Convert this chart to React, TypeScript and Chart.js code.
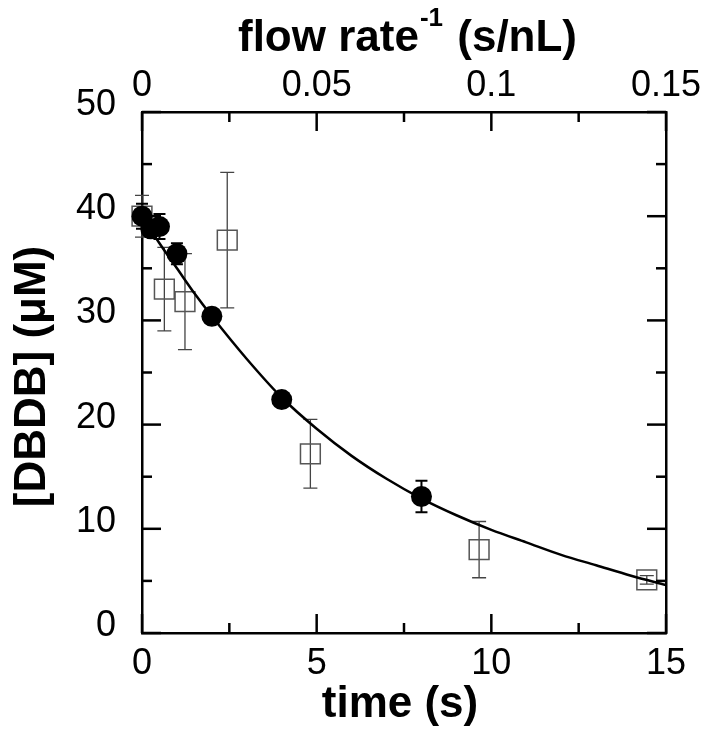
import React, { useEffect, useRef } from "react";
import { Chart, registerables } from "chart.js";

Chart.register(...registerables);

// ---- data ----
const circleTime = [0, 0.25, 0.5, 1, 2, 4, 8];
const circleConc = [40.0, 38.8, 39.0, 36.4, 30.4, 22.4, 13.1];
const circleErr = [1.2, 0.8, 1.2, 1.0, 0.7, 0.5, 1.5];

const squareTime = [0, 0.64, 1.23, 2.44, 4.82, 9.65, 14.45];
const squareConc = [40.0, 33.0, 31.8, 37.7, 17.2, 8.0, 5.1];
const squareErr = [2.0, 4.0, 4.6, 6.5, 3.3, 2.7, 0.4];

const fitTime = [0, 0.5, 1, 1.5, 2, 3, 4, 5, 6, 7, 8, 9, 10, 11, 12, 13, 14, 15];
const fitConc = [40.0, 37.4, 35.0, 32.6, 30.4, 26.3, 22.6, 19.6, 17.0, 14.8, 12.9, 11.3, 9.9, 8.7, 7.5, 6.5, 5.5, 4.6];

const timeTickValues = [0, 5, 10, 15];
const timeTickLabels = ["0", "5", "10", "15"];
const timeMinorTicks = [2.5, 7.5, 12.5];
const flowTickValues = [0, 0.05, 0.1, 0.15];
const flowTickLabels = ["0", "0.05", "0.1", "0.15"];
const flowMinorTicks = [0.025, 0.075, 0.125];
const concTickValues = [0, 10, 20, 30, 40, 50];
const concTickLabels = ["0", "10", "20", "30", "40", "50"];
const concMinorTicks = [5, 15, 25, 35, 45];

const xTitle = "time (s)";
const yTitle = "[DBDB] (\u03BCM)";
const topTitleMain = "flow rate";
const topTitleSup = "-1";
const topTitleTail = " (s/nL)";

const FONT = "'Liberation Sans', Arial, Helvetica, sans-serif";

const errorBarsPlugin = {
  id: "errorBars",
  beforeDatasetsDraw(chart: any) {
    const { ctx, scales } = chart;
    const xs = scales.x;
    const ys = scales.y;
    const draw = (t: number[], v: number[], e: number[], color: string, lw: number, cap: number) => {
      ctx.save();
      ctx.strokeStyle = color;
      ctx.lineWidth = lw;
      for (let i = 0; i < t.length; i++) {
        const x = xs.getPixelForValue(t[i]);
        const y1 = ys.getPixelForValue(v[i] + e[i]);
        const y2 = ys.getPixelForValue(v[i] - e[i]);
        ctx.beginPath();
        ctx.moveTo(x, y1);
        ctx.lineTo(x, y2);
        ctx.moveTo(x - cap, y1);
        ctx.lineTo(x + cap, y1);
        ctx.moveTo(x - cap, y2);
        ctx.lineTo(x + cap, y2);
        ctx.stroke();
      }
      ctx.restore();
    };
    draw(squareTime, squareConc, squareErr, "#444", 1.3, 7);
    draw(circleTime, circleConc, circleErr, "#000", 2, 6);
  },
};

const inwardTicksPlugin = {
  id: "inwardTicks",
  afterDatasetsDraw(chart: any) {
    const { ctx, chartArea: a, scales } = chart;
    const MAJOR = 19;
    const MINOR = 10;
    ctx.save();
    ctx.strokeStyle = "#000";
    ctx.lineWidth = 2.5;
    const seg = (x1: number, y1: number, x2: number, y2: number) => {
      ctx.beginPath();
      ctx.moveTo(x1, y1);
      ctx.lineTo(x2, y2);
      ctx.stroke();
    };
    timeTickValues.forEach((v) => {
      const x = scales.x.getPixelForValue(v);
      seg(x, a.bottom, x, a.bottom - MAJOR);
    });
    timeMinorTicks.forEach((v) => {
      const x = scales.x.getPixelForValue(v);
      seg(x, a.bottom, x, a.bottom - MINOR);
    });
    flowTickValues.forEach((v) => {
      const x = scales.x2.getPixelForValue(v);
      seg(x, a.top, x, a.top + MAJOR);
    });
    flowMinorTicks.forEach((v) => {
      const x = scales.x2.getPixelForValue(v);
      seg(x, a.top, x, a.top + MINOR);
    });
    concTickValues.forEach((v) => {
      const y = scales.y.getPixelForValue(v);
      seg(a.left, y, a.left + MAJOR, y);
      seg(a.right, y, a.right - MAJOR, y);
    });
    concMinorTicks.forEach((v) => {
      const y = scales.y.getPixelForValue(v);
      seg(a.left, y, a.left + MINOR, y);
      seg(a.right, y, a.right - MINOR, y);
    });
    ctx.restore();
  },
};

const titlesPlugin = {
  id: "titles",
  afterDraw(chart: any) {
    const { ctx, chartArea: a } = chart;
    ctx.save();
    ctx.fillStyle = "#000";
    const big = `bold 44px ${FONT}`;
    const small = `bold 26px ${FONT}`;
    // bottom
    ctx.font = big;
    ctx.textAlign = "center";
    ctx.textBaseline = "alphabetic";
    ctx.fillText(xTitle, (a.left + a.right) / 2 - 4, 717);
    // left (rotated)
    ctx.save();
    ctx.translate(45, (a.top + a.bottom) / 2 + 4);
    ctx.rotate(-Math.PI / 2);
    ctx.textAlign = "center";
    ctx.fillText(yTitle, 0, 0);
    ctx.restore();
    // top with superscript
    ctx.font = big;
    const w1 = ctx.measureText(topTitleMain).width;
    const w3 = ctx.measureText(topTitleTail).width;
    ctx.font = small;
    const w2 = ctx.measureText(topTitleSup).width + 2;
    const total = w1 + w2 + w3;
    const cx = (a.left + a.right) / 2 + 3;
    let x = cx - total / 2;
    const base = 51;
    ctx.textAlign = "left";
    ctx.font = big;
    ctx.fillText(topTitleMain, x, base);
    x += w1 + 1;
    ctx.font = small;
    ctx.fillText(topTitleSup, x, base - 25);
    x += w2;
    ctx.font = big;
    ctx.fillText(topTitleTail, x, base);
    ctx.restore();
  },
};

const noHPad = (s: any) => {
  s.paddingLeft = 0;
  s.paddingRight = 0;
};
const noVPad = (s: any) => {
  s.paddingTop = 0;
  s.paddingBottom = 0;
};

export default function App() {
  const ref = useRef<HTMLCanvasElement | null>(null);
  useEffect(() => {
    document.body.style.margin = "0";
    const canvas = ref.current;
    if (!canvas) return;
    const tickFont = { family: FONT, size: 36 };
    const chart = new Chart(canvas, {
      type: "scatter",
      data: {
        datasets: [
          {
            label: "circles",
            data: circleTime.map((t, i) => ({ x: t, y: circleConc[i] })),
            pointStyle: "circle",
            pointRadius: 10.5,
            backgroundColor: "#000",
            borderColor: "#000",
            borderWidth: 0,
            xAxisID: "x",
            yAxisID: "y",
            order: 0,
            clip: false as any,
          },
          {
            label: "fit",
            data: fitTime.map((t, i) => ({ x: t, y: fitConc[i] })),
            showLine: true,
            pointRadius: 0,
            borderColor: "#000",
            borderWidth: 2.5,
            cubicInterpolationMode: "monotone",
            xAxisID: "x",
            yAxisID: "y",
            order: 1,
          } as any,
          {
            label: "squares",
            data: squareTime.map((t, i) => ({ x: t, y: squareConc[i] })),
            pointStyle: "rect",
            pointRadius: 14,
            backgroundColor: "rgba(255,255,255,0)",
            borderColor: "#555",
            borderWidth: 1.5,
            xAxisID: "x",
            yAxisID: "y",
            order: 2,
            clip: false as any,
          },
        ],
      },
      options: {
        animation: false,
        responsive: false,
        events: [],
        layout: { padding: { left: 0, right: 36, top: 0, bottom: 0 } },
        plugins: { legend: { display: false }, tooltip: { enabled: false } },
        scales: {
          x: {
            type: "linear",
            position: "bottom",
            min: 0,
            max: 15,
            afterBuildTicks: (s: any) => {
              s.ticks = timeTickValues.map((v) => ({ value: v }));
            },
            ticks: {
              font: tickFont,
              color: "#000",
              padding: 9,
              maxRotation: 0,
              autoSkip: false,
              callback: (v: any) => timeTickLabels[timeTickValues.indexOf(Number(v))] ?? "",
            },
            grid: { display: false, drawTicks: false },
            border: { display: true, width: 2.5, color: "#000" },
            afterFit: (s: any) => {
              s.height = 105;
              noHPad(s);
            },
          },
          x2: {
            type: "linear",
            position: "top",
            min: 0,
            max: 0.15,
            afterBuildTicks: (s: any) => {
              s.ticks = flowTickValues.map((v) => ({ value: v }));
            },
            ticks: {
              font: tickFont,
              color: "#000",
              padding: 4,
              maxRotation: 0,
              autoSkip: false,
              callback: (v: any) => {
                const i = flowTickValues.findIndex((f) => Math.abs(f - Number(v)) < 1e-9);
                return i >= 0 ? flowTickLabels[i] : "";
              },
            },
            grid: { display: false, drawTicks: false },
            border: { display: true, width: 2.5, color: "#000" },
            afterFit: (s: any) => {
              s.height = 112;
              noHPad(s);
            },
          },
          y: {
            type: "linear",
            position: "left",
            min: 0,
            max: 50,
            afterBuildTicks: (s: any) => {
              s.ticks = concTickValues.map((v) => ({ value: v }));
            },
            ticks: {
              font: tickFont,
              color: "#000",
              padding: 26,
              labelOffset: -7,
              autoSkip: false,
              callback: (v: any) => concTickLabels[concTickValues.indexOf(Number(v))] ?? "",
            },
            grid: { display: false, drawTicks: false },
            border: { display: true, width: 2.5, color: "#000" },
            afterFit: (s: any) => {
              s.width = 142;
              noVPad(s);
            },
          },
          y2: {
            type: "linear",
            position: "right",
            min: 0,
            max: 50,
            ticks: { display: false },
            grid: { display: false, drawTicks: false },
            border: { display: true, width: 2.5, color: "#000" },
            afterFit: (s: any) => {
              s.width = 0;
              noVPad(s);
            },
          },
        },
      } as any,
      plugins: [errorBarsPlugin, inwardTicksPlugin, titlesPlugin],
    });
    return () => chart.destroy();
  }, []);
  return (
    <div style={{ width: 702, height: 738, background: "#fff" }}>
      <canvas ref={ref} width={702} height={738} style={{ display: "block" }} />
    </div>
  );
}
